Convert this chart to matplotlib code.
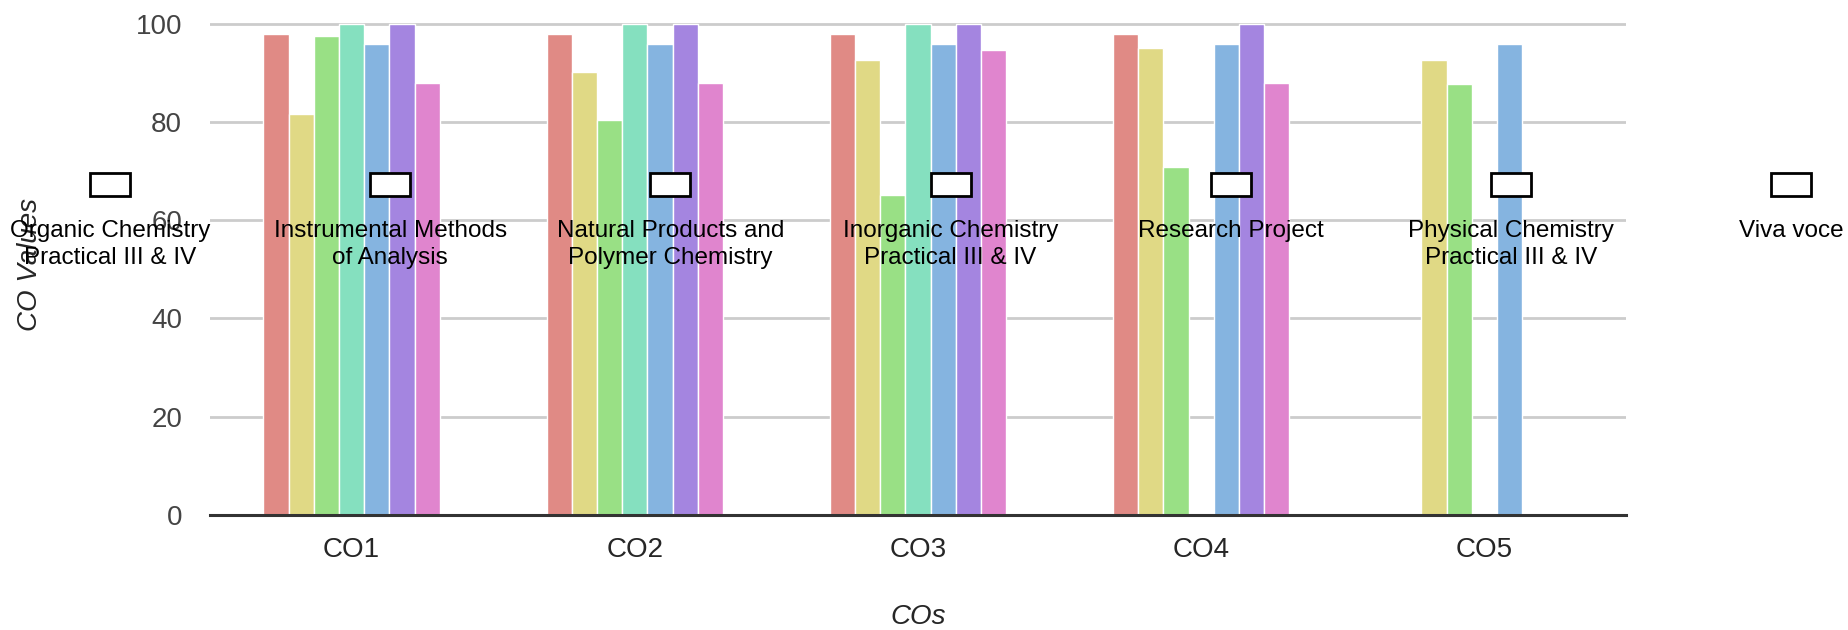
import numpy as np
import matplotlib
matplotlib.use("Agg")
import matplotlib.pyplot as plt
from matplotlib.patches import Rectangle
import seaborn as sns

# ---- data ----
cos = ["CO1", "CO2", "CO3", "CO4", "CO5"]
courses = [
    "Organic Chemistry\nPractical III & IV",
    "Instrumental Methods\nof Analysis",
    "Natural Products and\nPolymer Chemistry",
    "Inorganic Chemistry\nPractical III & IV",
    "Research Project",
    "Physical Chemistry\nPractical III & IV",
    "Viva voce",
]
organic = [97.8, 97.8, 97.8, 97.8, np.nan]
instrumental = [81.5, 90.1, 92.5, 95.0, 92.5]
natural = [97.4, 80.3, 65.2, 70.9, 87.6]
inorganic = [100, 100, 100, np.nan, np.nan]
research = [95.8, 95.8, 95.8, 95.8, 95.8]
physical = [100, 100, 100, 100, np.nan]
viva = [88.0, 88.0, 94.6, 88.0, np.nan]
series = [organic, instrumental, natural, inorganic, research, physical, viva]

plt.rcParams["font.family"] = ["Liberation Sans", "DejaVu Sans"]

W, H = 1848, 630
fig = plt.figure(figsize=(W / 100, H / 100), dpi=100)
ax = fig.add_axes([210 / W, 1 - 515 / H, 1416 / W, (515 - 13.7) / H])

colors = sns.hls_palette(len(series), l=0.7, s=0.6)
x = np.arange(len(cos))
w = 0.8 / 9
for i, vals in enumerate(series):
    ax.bar(x + (i - 3) * w, vals, w, color=colors[i], edgecolor="white",
           linewidth=1, zorder=2)

ax.set_xlim(-0.5, 4.5)
ax.set_ylim(0, 102)
ax.set_yticks([0, 20, 40, 60, 80, 100])
ax.set_xticks(x)
ax.set_xticklabels(cos)
ax.yaxis.grid(True, color="#cccccc", linewidth=2.0, zorder=0)
ax.set_axisbelow(True)
for sp in ["left", "top", "right"]:
    ax.spines[sp].set_visible(False)
ax.spines["bottom"].set_color("#333333")
ax.spines["bottom"].set_linewidth(2.2)
ax.spines["bottom"].set_zorder(3)
ax.tick_params(axis="both", length=0, labelsize=20)
ax.tick_params(axis="y", colors="#444444", pad=20)
ax.tick_params(axis="x", colors="#262626", pad=16)

ax.set_xlabel("COs", fontsize=20, style="italic", color="#262626")
ax.set_ylabel("CO Values", fontsize=20, style="italic", color="#262626")
ax.xaxis.set_label_coords(0.5, -0.178)
ax.yaxis.set_label_coords(-0.118, 0.5)

# legend: empty boxes above centred labels, spread across the figure
cx = [110 + 280.2 * k for k in range(len(courses))]
bw, bh = 40, 23
for k, lab in enumerate(courses):
    fig.add_artist(Rectangle(((cx[k] - bw / 2) / W, 1 - (184 + bh / 2) / H),
                             bw / W, bh / H, transform=fig.transFigure,
                             facecolor="white", edgecolor="black",
                             linewidth=2, zorder=5))
    fig.text(cx[k] / W, 1 - 220 / H, lab, ha="center", va="top",
             multialignment="center", fontsize=17.5, color="black",
             linespacing=1.3, zorder=6)

fig.savefig("out.png", dpi=100)
